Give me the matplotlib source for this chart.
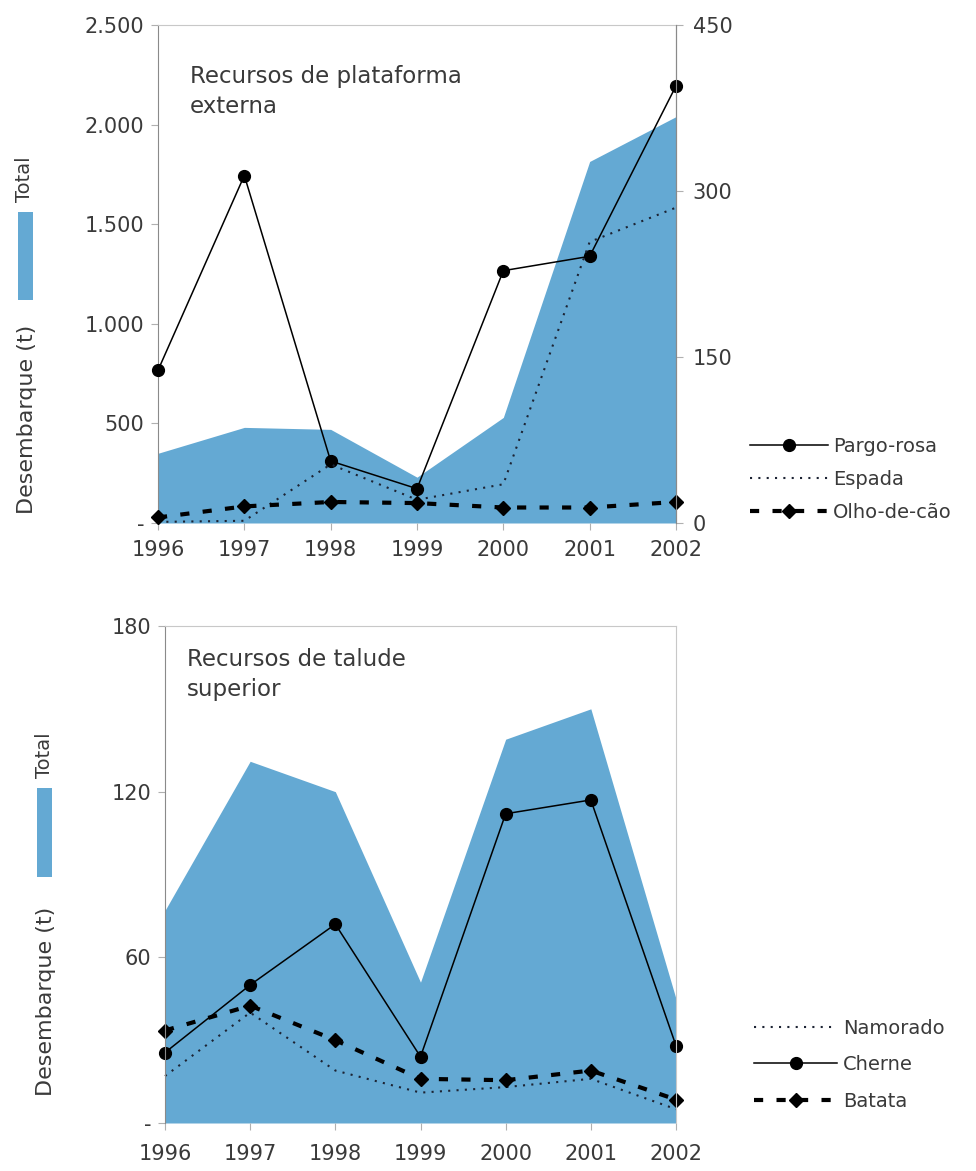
import matplotlib.pyplot as plt
from matplotlib.patches import Rectangle
from matplotlib.ticker import FuncFormatter

plt.rcParams['font.family'] = ['DejaVu Sans']

anos = [1996, 1997, 1998, 1999, 2000, 2001, 2002]

# plataforma externa (t)
total_plat = [350, 480, 470, 230, 530, 1815, 2040]
pargo_rosa = [138, 314, 56, 31, 228, 241, 395]
espada = [1, 2, 53, 21, 35, 254, 285]
olho_de_cao = [5, 15, 19, 18, 14, 14, 19]

# talude superior (t)
total_talude = [77, 131, 120, 51, 139, 150, 45]
namorado = [17, 40, 19, 11, 13, 16, 5]
cherne = [25.5, 50, 72, 24, 112, 117, 28]
batata = [33.5, 42.5, 30, 16, 15.5, 19, 8.5]

AZUL = '#64a9d3'
CINZA = '#3a3a3a'
PONTILHADO = (0, (1, 3))
TRACEJADO = (0, (2.2, 3.2))
W, H = 976, 1171
FS_TICK = 15


def fmt_milhar(v, pos):
    if v == 0:
        return '-'
    return f'{int(v):,}'.replace(',', '.')


def estilo(ax, cor_dir, pad_x):
    ax.set_xlim(1996, 2002)
    ax.set_xticks(anos)
    ax.set_xticklabels([str(a) for a in anos])
    ax.spines['bottom'].set_visible(False)
    ax.spines['left'].set_color('#8a8a8a')
    ax.spines['top'].set_color('#c8c8c8')
    ax.spines['right'].set_color(cor_dir)
    ax.tick_params(axis='x', length=5, color='#b0b0b0', labelsize=FS_TICK,
                   labelcolor=CINZA, pad=pad_x)
    ax.tick_params(axis='y', length=5, color='#b0b0b0', labelsize=FS_TICK,
                   labelcolor=CINZA, pad=5)
    ax.yaxis.set_major_formatter(FuncFormatter(fmt_milhar))


def rotulo_total(x, y_total, y_patch, y_desemb):
    fig.text(x / W, 1 - y_total / H, 'Total', rotation=90, ha='center',
             va='center', fontsize=14, color=CINZA)
    fig.add_artist(Rectangle(((x - 7) / W, 1 - y_patch[1] / H), 15 / W,
                             (y_patch[1] - y_patch[0]) / H,
                             transform=fig.transFigure, color=AZUL, lw=0))
    fig.text((x + 2) / W, 1 - y_desemb / H, 'Desembarque (t)', rotation=90,
             ha='center', va='center', fontsize=16, color=CINZA)


fig = plt.figure(figsize=(W / 100, H / 100), dpi=100)

# ---- painel superior ----
ax1 = fig.add_axes([158 / W, 1 - 523 / H, 518 / W, 498 / H])
ax1.fill_between(anos, total_plat, 0, color=AZUL, lw=0)
ax1.set_ylim(0, 2500)
ax1.set_yticks([0, 500, 1000, 1500, 2000, 2500])
estilo(ax1, '#8a8a8a', 7)
ax1.text(32 / 518, 1 - 40 / 498, 'Recursos de plataforma\nexterna',
         transform=ax1.transAxes, ha='left', va='top', fontsize=16.5,
         color=CINZA, linespacing=1.4)

ax1r = ax1.twinx()
ax1r.set_ylim(0, 450)
ax1r.set_yticks([0, 150, 300, 450])
ax1r.tick_params(axis='y', length=5, color='#b0b0b0', labelsize=FS_TICK,
                 labelcolor=CINZA, pad=7)
for s in ['left', 'top', 'bottom']:
    ax1r.spines[s].set_visible(False)
ax1r.spines['right'].set_color('#8a8a8a')
l1, = ax1r.plot(anos, pargo_rosa, '-', color='black', lw=1.1, marker='o',
                ms=8.5, label='Pargo-rosa', clip_on=False)
l2, = ax1r.plot(anos, espada, ls=PONTILHADO, color='#1c2333', lw=1.5,
                label='Espada', clip_on=False)
l3, = ax1r.plot(anos, olho_de_cao, color='black', lw=3, ls=TRACEJADO,
                marker='D', ms=7, label='Olho-de-cão', clip_on=False)
fig.legend(handles=[l1, l2, l3], loc='upper left',
           bbox_to_anchor=(740 / W, 1 - 427 / H), frameon=False,
           fontsize=14, handlelength=4.0, labelspacing=0.72,
           handletextpad=0.3, borderpad=0, labelcolor=CINZA)
rotulo_total(25, 179, (212, 300), 419)

# ---- painel inferior ----
ax2 = fig.add_axes([165 / W, 1 - 1123 / H, 511 / W, 497 / H])
ax2.fill_between(anos, total_talude, 0, color=AZUL, lw=0)
ax2.set_ylim(0, 180)
ax2.set_yticks([0, 60, 120, 180])
estilo(ax2, '#c8c8c8', 10)
ax2.tick_params(axis='y', right=False)
ax2.text(22 / 511, 1 - 22 / 497, 'Recursos de talude\nsuperior',
         transform=ax2.transAxes, ha='left', va='top', fontsize=16.5,
         color=CINZA, linespacing=1.4)
m1, = ax2.plot(anos, namorado, ls=PONTILHADO, color='#1c2333', lw=1.5,
               label='Namorado', clip_on=False)
m2, = ax2.plot(anos, cherne, '-', color='black', lw=1.1, marker='o', ms=8.5,
               label='Cherne', clip_on=False)
m3, = ax2.plot(anos, batata, color='black', lw=3, ls=TRACEJADO,
               marker='D', ms=7, label='Batata', clip_on=False)
fig.legend(handles=[m1, m2, m3], loc='upper left',
           bbox_to_anchor=(744 / W, 1 - 1009 / H), frameon=False,
           fontsize=14, handlelength=4.3, labelspacing=0.9,
           handletextpad=0.3, borderpad=0, labelcolor=CINZA)
rotulo_total(44, 755, (788, 877), 1001)

fig.savefig('out.png', dpi=100)
